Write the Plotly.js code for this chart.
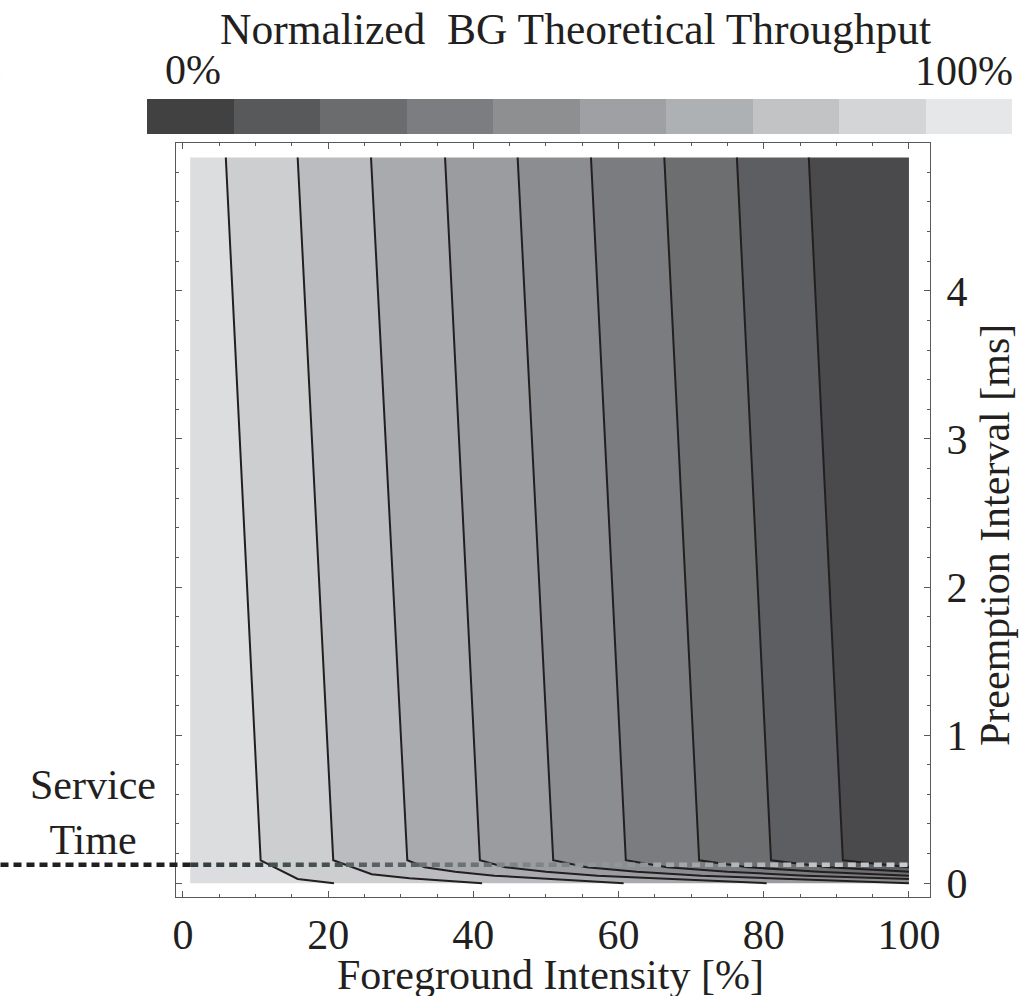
<!DOCTYPE html>
<html>
<head>
<meta charset="utf-8">
<script src="https://cdn.plot.ly/plotly-3.0.1.min.js"></script>
<style>html,body{margin:0;padding:0;background:#fff;overflow:hidden}</style>
</head>
<body>
<div id="chart" style="width:1032px;height:996px"></div>
<script>
// Domain of the computed surface: foreground intensity [%] x preemption interval [ms]
const xMin = 1, xMax = 100, yMin = 0, yMax = 4.9;
const serviceTime = 0.124;

// Iso-throughput lines (level -> polyline from the top edge down to where it leaves the domain)
const levels = [0.9, 0.8, 0.7, 0.6, 0.5, 0.4, 0.3, 0.2, 0.1];
const l90Rho = [5.9, 10.7, 15.8, 20.8];
const l90Tau = [4.9, 0.155, 0.029, 0];
const l80Rho = [15.8, 20.7, 26.0, 31.2, 41.2];
const l80Tau = [4.9, 0.155, 0.061, 0.034, 0];
const l70Rho = [25.9, 30.9, 33.3, 37.5, 42.9, 50.0, 60.7];
const l70Tau = [4.9, 0.155, 0.108, 0.078, 0.051, 0.029, 0];
const l60Rho = [36.1, 40.9, 44.4, 50.0, 57.1, 66.7, 80.4];
const l60Tau = [4.9, 0.155, 0.108, 0.078, 0.051, 0.029, 0];
const l50Rho = [46.1, 51.0, 55.6, 62.5, 71.4, 83.3, 100];
const l50Tau = [4.9, 0.155, 0.108, 0.078, 0.051, 0.029, 0];
const l40Rho = [56.2, 61.0, 66.7, 75.0, 85.7, 100];
const l40Tau = [4.9, 0.155, 0.108, 0.078, 0.051, 0.029];
const l30Rho = [66.3, 71.1, 77.8, 87.5, 100];
const l30Tau = [4.9, 0.155, 0.108, 0.078, 0.051];
const l20Rho = [76.3, 81.0, 88.9, 100];
const l20Tau = [4.9, 0.155, 0.108, 0.078];
const l10Rho = [86.2, 90.9, 100];
const l10Tau = [4.9, 0.155, 0.108];

// Colour bar labels and titles
const barTitle = 'Normalized  BG Theoretical Throughput';
const barLow = '0%', barHigh = '100%';
const xTitle = 'Foreground Intensity [%]';
const yTitle = 'Preemption Interval [ms]';

// Styling
const FONT = 'Liberation Serif, Times New Roman, serif';
const INK = '#231f20';
const AXIS = '#58595b';
const bandFill = ['#dcdddf', '#cdced0', '#bbbcbf', '#a9aaad', '#9b9c9f',
                  '#8c8d90', '#7b7c7f', '#6d6e70', '#5d5e61', '#4a4a4c'];
const barColors = ['#414141', '#58595b', '#6b6c6e', '#7c7d80', '#8e8f91',
                   '#9fa0a3', '#aeb1b4', '#c2c3c5', '#d4d5d7', '#e6e7e8'];
const dashColors = ['#333e3e', '#455050', '#586262', '#6a7474', '#7c8686',
                    '#8e9799', '#a0a8aa', '#b1b8bb', '#bfc5c8', '#c9cdd1'];

const xRange = [-0.96, 102.9];
const yRange = [-0.093, 4.998];

const isoLines = [
  {rho: l90Rho, tau: l90Tau}, {rho: l80Rho, tau: l80Tau}, {rho: l70Rho, tau: l70Tau},
  {rho: l60Rho, tau: l60Tau}, {rho: l50Rho, tau: l50Tau}, {rho: l40Rho, tau: l40Tau},
  {rho: l30Rho, tau: l30Tau}, {rho: l20Rho, tau: l20Tau}, {rho: l10Rho, tau: l10Tau}
];

// Region between two iso-lines (null = domain edge)
function bandPolygon(left, right) {
  const xs = [], ys = [];
  let endY;
  if (!left) { xs.push(xMin, xMin); ys.push(yMax, yMin); endY = yMin; }
  else { xs.push(...left.rho); ys.push(...left.tau); endY = left.tau[left.tau.length - 1]; }
  if (!right) {
    if (endY === yMin) { xs.push(xMax); ys.push(yMin); }
    xs.push(xMax); ys.push(yMax);
  } else {
    const rEnd = right.tau[right.tau.length - 1];
    if (endY === yMin && rEnd > yMin) { xs.push(xMax); ys.push(yMin); }
    xs.push(...right.rho.slice().reverse()); ys.push(...right.tau.slice().reverse());
  }
  return {xs, ys};
}

// Where an iso-line crosses a given preemption interval
function crossingAt(line, tau) {
  for (let i = 0; i < line.tau.length - 1; i++) {
    const t0 = line.tau[i], t1 = line.tau[i + 1];
    if ((t0 - tau) * (t1 - tau) <= 0) {
      const f = (tau - t0) / (t1 - t0);
      return line.rho[i] + f * (line.rho[i + 1] - line.rho[i]);
    }
  }
  return null;
}

const traces = [];
const bounds = [null, ...isoLines, null];
for (let b = 0; b < 10; b++) {
  const p = bandPolygon(bounds[b], bounds[b + 1]);
  traces.push({
    type: 'scatter', mode: 'lines', x: p.xs, y: p.ys, fill: 'toself',
    fillcolor: bandFill[b], line: {width: 0, color: bandFill[b]},
    hoverinfo: 'skip', showlegend: false
  });
}
isoLines.forEach((ln, i) => {
  traces.push({
    type: 'scatter', mode: 'lines', x: ln.rho, y: ln.tau,
    line: {color: INK, width: 2}, name: String(levels[i]),
    hoverinfo: 'skip', showlegend: false
  });
});

// Colour key (stepped scale, 10 bins from 0 to 1)
const barScale = [];
barColors.forEach((c, i) => { barScale.push([i / 10, c]); barScale.push([(i + 1) / 10, c]); });
const plotW = 1032 - 176 - 102, plotH = 996 - 143 - 99;
traces.push({
  type: 'scatter', mode: 'markers', x: [null], y: [null], hoverinfo: 'skip', showlegend: false,
  marker: {
    color: [0], cmin: 0, cmax: 1, colorscale: barScale, showscale: true,
    colorbar: {
      orientation: 'h', thicknessmode: 'pixels', thickness: 35,
      lenmode: 'pixels', len: 865, x: (579.5 - 176) / plotW, xanchor: 'center',
      y: (897 - 134) / plotH, yanchor: 'bottom', xpad: 0, ypad: 0,
      outlinewidth: 0, ticks: '', showticklabels: false
    }
  }
});

// Service-time marker: dashed line, shade adapted to each band underneath
const shapes = [];
const toPaperX = v => (v - xRange[0]) / (xRange[1] - xRange[0]);
const toPaperY = v => (v - yRange[0]) / (yRange[1] - yRange[0]);
shapes.push({
  type: 'line', xref: 'paper', yref: 'paper', x0: -0.25, x1: toPaperX(xMin),
  y0: toPaperY(serviceTime), y1: toPaperY(serviceTime),
  line: {color: INK, width: 4.5, dash: '8px,5px'}, layer: 'above'
});
const cuts = [xMin, ...isoLines.map(l => crossingAt(l, serviceTime)), xMax];
for (let b = 0; b < 10; b++) {
  shapes.push({
    type: 'line', xref: 'x', yref: 'y', x0: cuts[b], x1: cuts[b + 1],
    y0: serviceTime, y1: serviceTime,
    line: {color: dashColors[b], width: 4.5, dash: '8px,5px'}, layer: 'above'
  });
}

const txt = (text, x, y, opts) => Object.assign({
  text, x, y, xref: 'paper', yref: 'paper', showarrow: false,
  font: {family: FONT, size: 42, color: INK}
}, opts || {});
const big = {family: FONT, size: 43.5, color: INK};

const annotations = [
  txt(barTitle, (575 - 176) / plotW, (897 - 29) / plotH, {xanchor: 'center', yanchor: 'middle', font: big}),
  txt(barLow, (163 - 176) / plotW, (897 - 70) / plotH, {xanchor: 'left', yanchor: 'middle'}),
  txt(barHigh, (1015 - 176) / plotW, (897 - 71) / plotH, {xanchor: 'right', yanchor: 'middle'}),
  txt(xTitle, (550 - 176) / plotW, (897 - 975) / plotH, {xanchor: 'center', yanchor: 'middle'}),
  txt(yTitle, (995 - 176) / plotW, (897 - 535) / plotH, {xanchor: 'center', yanchor: 'middle', textangle: -90}),
  txt('Service<br>Time', (93 - 176) / plotW, (897 - 812) / plotH, {xanchor: 'center', yanchor: 'middle'}),
  txt('100%', (3 - 176) / plotW, (897 - 71) / plotH, {xanchor: 'right', yanchor: 'middle'}),
  txt('100', (3 - 176) / plotW, (897 - 933) / plotH, {xanchor: 'right', yanchor: 'middle'})
];

const axisCommon = {
  showgrid: false, zeroline: false, showline: true, linecolor: AXIS, linewidth: 1.2,
  mirror: 'ticks', ticks: 'inside', ticklen: 6, tickwidth: 1, tickcolor: AXIS,
  tickfont: {family: FONT, size: 42, color: INK}, fixedrange: true
};

const layout = {
  width: 1032, height: 996,
  margin: {l: 176, r: 102, t: 143, b: 99, pad: 0},
  paper_bgcolor: '#ffffff', plot_bgcolor: '#ffffff',
  showlegend: false,
  xaxis: Object.assign({}, axisCommon, {
    range: xRange, tick0: 0, dtick: 20, ticklabelstandoff: 0,
    minor: {dtick: 5, ticks: 'inside', ticklen: 3, tickcolor: AXIS, tickwidth: 1}
  }),
  yaxis: Object.assign({}, axisCommon, {
    side: 'right', range: yRange, tick0: 0, dtick: 1, ticklabelstandoff: 7,
    minor: {dtick: 0.2, ticks: 'inside', ticklen: 3, tickcolor: AXIS, tickwidth: 1}
  }),
  shapes, annotations
};

Plotly.newPlot('chart', traces, layout, {displayModeBar: false, staticPlot: true});
</script>
</body>
</html>
